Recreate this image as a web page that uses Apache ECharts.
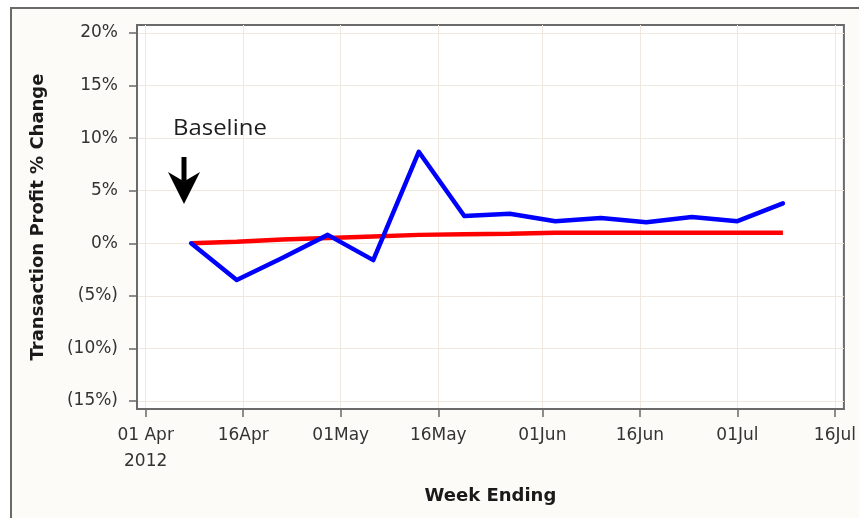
<!DOCTYPE html>
<html>
<head>
<meta charset="utf-8">
<script src="https://cdn.jsdelivr.net/npm/echarts@6/dist/echarts.min.js"></script>
<style>
  html, body { margin: 0; padding: 0; background: #ffffff; }
  #chart { width: 859px; height: 518px; }
</style>
</head>
<body>
<div id="chart"></div>
<script>
// Week-ending dates and weekly % change in transaction profit
const weeks = ['2012-04-08', '2012-04-15', '2012-04-22', '2012-04-29', '2012-05-06', '2012-05-13', '2012-05-20',
               '2012-05-27', '2012-06-03', '2012-06-10', '2012-06-17', '2012-06-24', '2012-07-01', '2012-07-08'];
const profitChange   = [0, -3.5, -1.4, 0.8, -1.6, 8.7, 2.6, 2.8, 2.1, 2.4, 2.0, 2.5, 2.1, 3.8];
const baselineTrend  = [0, 0.15, 0.35, 0.5, 0.65, 0.8, 0.85, 0.9, 1.0, 1.0, 1.0, 1.0, 1.0, 1.0];

// Axis ticks
const xTickDates  = ['2012-04-01', '2012-04-16', '2012-05-01', '2012-05-16', '2012-06-01', '2012-06-16', '2012-07-01', '2012-07-16'];
const xTickLabels = ['01 Apr\n2012', '16Apr', '01May', '16May', '01Jun', '16Jun', '01Jul', '16Jul'];
const yTicks      = [-15, -10, -5, 0, 5, 10, 15, 20];

// Dates are placed on a numeric axis as days elapsed since 01 Apr 2012
const DAY = 86400000;
const ORIGIN = Date.UTC(2012, 3, 1);
function toDay(s) {
  const p = s.split('-').map(Number);
  return (Date.UTC(p[0], p[1] - 1, p[2]) - ORIGIN) / DAY;
}
const xTickDays = xTickDates.map(toDay);
const xMin = xTickDays[0] - 1.33;
const xMax = xTickDays[xTickDays.length - 1] + 1.38;

function pctLabel(v) {
  const r = Math.round(v);
  return r < 0 ? '(' + Math.abs(r) + '%)' : r + '%';
}

const labelFont = { fontFamily: 'DejaVu Sans', fontSize: 17, color: '#333333' };
const gridLine = { show: true, lineStyle: { color: '#eee8df', width: 1 } };

const chart = echarts.init(document.getElementById('chart'), null, { renderer: 'canvas' });
chart.setOption({
  animation: false,
  backgroundColor: '#ffffff',
  grid: {
    left: 137, top: 25, right: 13, bottom: 109,
    show: true, backgroundColor: '#ffffff', borderColor: '#6a6a6a', borderWidth: 2
  },
  graphic: [
    {
      type: 'rect', z: -10, silent: true,
      shape: { x: 11, y: 8, width: 900, height: 600 },
      style: { fill: '#fcfbf8', stroke: '#6a6a6a', lineWidth: 2 }
    },
    {
      type: 'text', x: 173, y: 119, scaleX: 1.14, z: 100,
      style: { text: 'Baseline', font: '21px "Open Sans"', fill: '#1e1e1e' }
    },
    {
      type: 'polygon', z: 100,
      shape: { points: [[181.5, 157], [186.5, 157], [186.5, 180], [200, 172], [184, 204], [168, 172], [181.5, 180]] },
      style: { fill: '#000000' }
    }
  ],
  xAxis: {
    type: 'value',
    min: xMin, max: xMax,
    name: 'Week Ending',
    nameLocation: 'middle',
    nameGap: 78,
    nameTextStyle: { fontFamily: 'DejaVu Sans', fontSize: 18, fontWeight: 'bold', color: '#1a1a1a', verticalAlign: 'top' },
    axisLine: { show: true, onZero: false, lineStyle: { color: '#6a6a6a', width: 2 } },
    axisTick: { show: true, length: 8, lineStyle: { color: '#6a6a6a', width: 1.5 }, customValues: xTickDays },
    axisLabel: Object.assign({
      customValues: xTickDays,
      margin: 14,
      lineHeight: 26,
      hideOverlap: false,
      formatter: function (val) {
        let best = 0;
        for (let i = 1; i < xTickDays.length; i++) {
          if (Math.abs(xTickDays[i] - val) < Math.abs(xTickDays[best] - val)) best = i;
        }
        return xTickLabels[best];
      }
    }, labelFont),
    splitLine: gridLine
  },
  yAxis: {
    type: 'value',
    min: -15.76, max: 20.76,
    name: 'Transaction Profit % Change',
    nameLocation: 'middle',
    nameGap: 90,
    nameTextStyle: { fontFamily: 'DejaVu Sans', fontSize: 18, fontWeight: 'bold', color: '#1a1a1a' },
    axisLine: { show: true, onZero: false, lineStyle: { color: '#6a6a6a', width: 2 } },
    axisTick: { show: true, length: 8, lineStyle: { color: '#6a6a6a', width: 1.5 }, customValues: yTicks },
    axisLabel: Object.assign({
      customValues: yTicks,
      margin: 19,
      formatter: pctLabel
    }, labelFont),
    splitLine: gridLine
  },
  series: [
    {
      name: 'Baseline trend',
      type: 'line',
      data: weeks.map((w, i) => [toDay(w), baselineTrend[i]]),
      symbol: 'none',
      lineStyle: { color: '#ff0000', width: 4.5 },
      z: 2
    },
    {
      name: 'Transaction profit',
      type: 'line',
      data: weeks.map((w, i) => [toDay(w), profitChange[i]]),
      symbol: 'none',
      lineStyle: { color: '#0000ff', width: 4.5, join: 'round', cap: 'round' },
      z: 3
    }
  ]
});
</script>
</body>
</html>
